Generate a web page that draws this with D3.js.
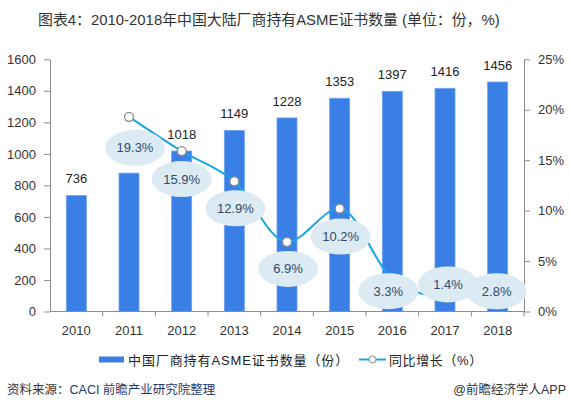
<!DOCTYPE html>
<html><head><meta charset="utf-8">
<script src="https://cdn.jsdelivr.net/npm/d3@7/dist/d3.min.js"></script>
<style>
body{margin:0;background:#fff;}
svg{display:block;font-family:"Liberation Sans","Noto Sans CJK SC",Arial,sans-serif;}
</style></head>
<body><svg id="c" width="569" height="410"></svg>
<script>
const years = ["2010","2011","2012","2013","2014","2015","2016","2017","2018"];
const counts = [736, 878, 1018, 1149, 1228, 1353, 1397, 1416, 1456];
const growth = [null, 19.3, 15.9, 12.9, 6.9, 10.2, 3.3, 1.4, 2.8];
const leftTicks = [0,200,400,600,800,1000,1200,1400,1600];
const rightTicks = [0,5,10,15,20,25];
// label bubble offsets relative to the point (layout only)
const bubbleOffset = [null,[6,31],[0,28],[1,27],[1,27],[1,28],[-4,13],[3,-13],[-1,8]];

const svg = d3.select("#c");
const L = 50, R = 524, T = 59.3, B = 311.5;

const x = d3.scaleBand().domain(years).range([L, R]).paddingInner(0.62).paddingOuter(0.31);
const xb = d3.scaleBand().domain(years).range([L, R]);
const y = d3.scaleLinear().domain([0,1600]).range([B, T]);
const y2 = d3.scaleLinear().domain([0,25]).range([B, T]);

// title
svg.append("text").attr("x", 38).attr("y", 25).attr("font-size", 14.9).attr("fill", "#333")
  .text("图表4：2010-2018年中国大陆厂商持有ASME证书数量 (单位：份，%)");

// left axis
const ga = svg.append("g").attr("transform", `translate(${L},0)`)
  .call(d3.axisLeft(y).tickValues(leftTicks).tickSize(6).tickSizeOuter(0).tickPadding(8).tickFormat(d3.format("d")));
// right axis
const gb = svg.append("g").attr("transform", `translate(${R},0)`)
  .call(d3.axisRight(y2).tickValues(rightTicks).tickSize(6).tickSizeOuter(0).tickPadding(8).tickFormat(d => d + "%"));
[ga, gb].forEach(g => {
  g.select(".domain").attr("stroke", "#8c8c8c");
  g.selectAll(".tick line").attr("stroke", "#8c8c8c");
  g.selectAll(".tick text").attr("font-size", 13).attr("fill", "#333")
   .attr("font-family", "Liberation Sans, Arial, sans-serif");
});

// bars
svg.append("g").selectAll("rect").data(years).join("rect")
  .attr("x", d => x(d)).attr("width", x.bandwidth())
  .attr("y", (d,i) => y(counts[i])).attr("height", (d,i) => B - y(counts[i]))
  .attr("fill", "#3a7fe6").attr("stroke", "#6fa4ee").attr("stroke-width", 0.8);

// bottom axis
svg.append("line").attr("x1", L).attr("x2", R).attr("y1", B).attr("y2", B).attr("stroke", "#8c8c8c");
const bt = svg.append("g");
years.slice(1).forEach(d => {
  bt.append("line").attr("x1", xb(d)).attr("x2", xb(d)).attr("y1", B).attr("y2", B + 5).attr("stroke", "#8c8c8c");
});
bt.append("line").attr("x1", R).attr("x2", R).attr("y1", B).attr("y2", B + 5).attr("stroke", "#8c8c8c");
svg.append("g").selectAll("text").data(years).join("text")
  .attr("x", d => xb(d) + xb.bandwidth()/2).attr("y", 335).attr("text-anchor", "middle")
  .attr("font-size", 13).attr("fill", "#333").text(d => d);

// value labels (the 2011 label is covered by its growth bubble in the original)
const vals = years.map((d,i) => ({d, i, v: counts[i]})).filter(p => p.i !== 1);
svg.append("g").selectAll("text").data(vals).join("text")
  .attr("x", p => x(p.d) + x.bandwidth()/2).attr("y", p => y(p.v) - 12)
  .attr("text-anchor", "middle").attr("font-size", 13).attr("fill", "#222").text(p => p.v);

// growth line
const pts = years.map((d,i) => ({d, i, v: growth[i]})).filter(p => p.v !== null);
const cx = p => xb(p.d) + xb.bandwidth()/2;
svg.append("path").datum(pts)
  .attr("d", d3.line().x(cx).y(p => y2(p.v)).curve(d3.curveMonotoneX))
  .attr("fill", "none").attr("stroke", "#17a6e3").attr("stroke-width", 2);
svg.append("g").selectAll("circle").data(pts).join("circle")
  .attr("cx", cx).attr("cy", p => y2(p.v)).attr("r", 4.5)
  .attr("fill", "#fff").attr("stroke", "#8a8a8a").attr("stroke-width", 1.3);

// bubbles
const bg = svg.append("g").selectAll("g").data(pts).join("g")
  .attr("transform", p => `translate(${cx(p) + bubbleOffset[p.i][0]},${y2(p.v) + bubbleOffset[p.i][1]})`);
bg.append("ellipse").attr("rx", 30).attr("ry", 18).attr("fill", "#dceaf3");
bg.append("text").attr("text-anchor", "middle").attr("dy", 4.5).attr("font-size", 13)
  .attr("fill", "#2f4a6b").text(p => p.v.toFixed(1) + "%");

// legend
svg.append("rect").attr("x", 99).attr("y", 356.5).attr("width", 25).attr("height", 6).attr("fill", "#3a7fe6");
svg.append("text").attr("x", 128).attr("y", 364.5).attr("font-size", 13).attr("fill", "#222")
  .attr("letter-spacing", 0.9).text("中国厂商持有ASME证书数量（份）");
svg.append("line").attr("x1", 359).attr("x2", 386).attr("y1", 359.5).attr("y2", 359.5).attr("stroke", "#17a6e3").attr("stroke-width", 2);
svg.append("circle").attr("cx", 372.5).attr("cy", 359.5).attr("r", 3.5).attr("fill", "#fff").attr("stroke", "#8a8a8a");
svg.append("text").attr("x", 389).attr("y", 364.5).attr("font-size", 13).attr("fill", "#222")
  .attr("letter-spacing", 0.6).text("同比增长（%）");

// source
const src = svg.append("text").attr("x", 7).attr("y", 394).attr("font-size", 12.5);
src.append("tspan").attr("fill", "#333").text("资料来源：");
src.append("tspan").attr("fill", "#1f3a6e").text("CACI 前瞻产业研究院整理");
svg.append("text").attr("x", 566).attr("y", 394).attr("text-anchor", "end").attr("font-size", 12.5)
  .attr("fill", "#333").text("@前瞻经济学人APP");
</script></body></html>
